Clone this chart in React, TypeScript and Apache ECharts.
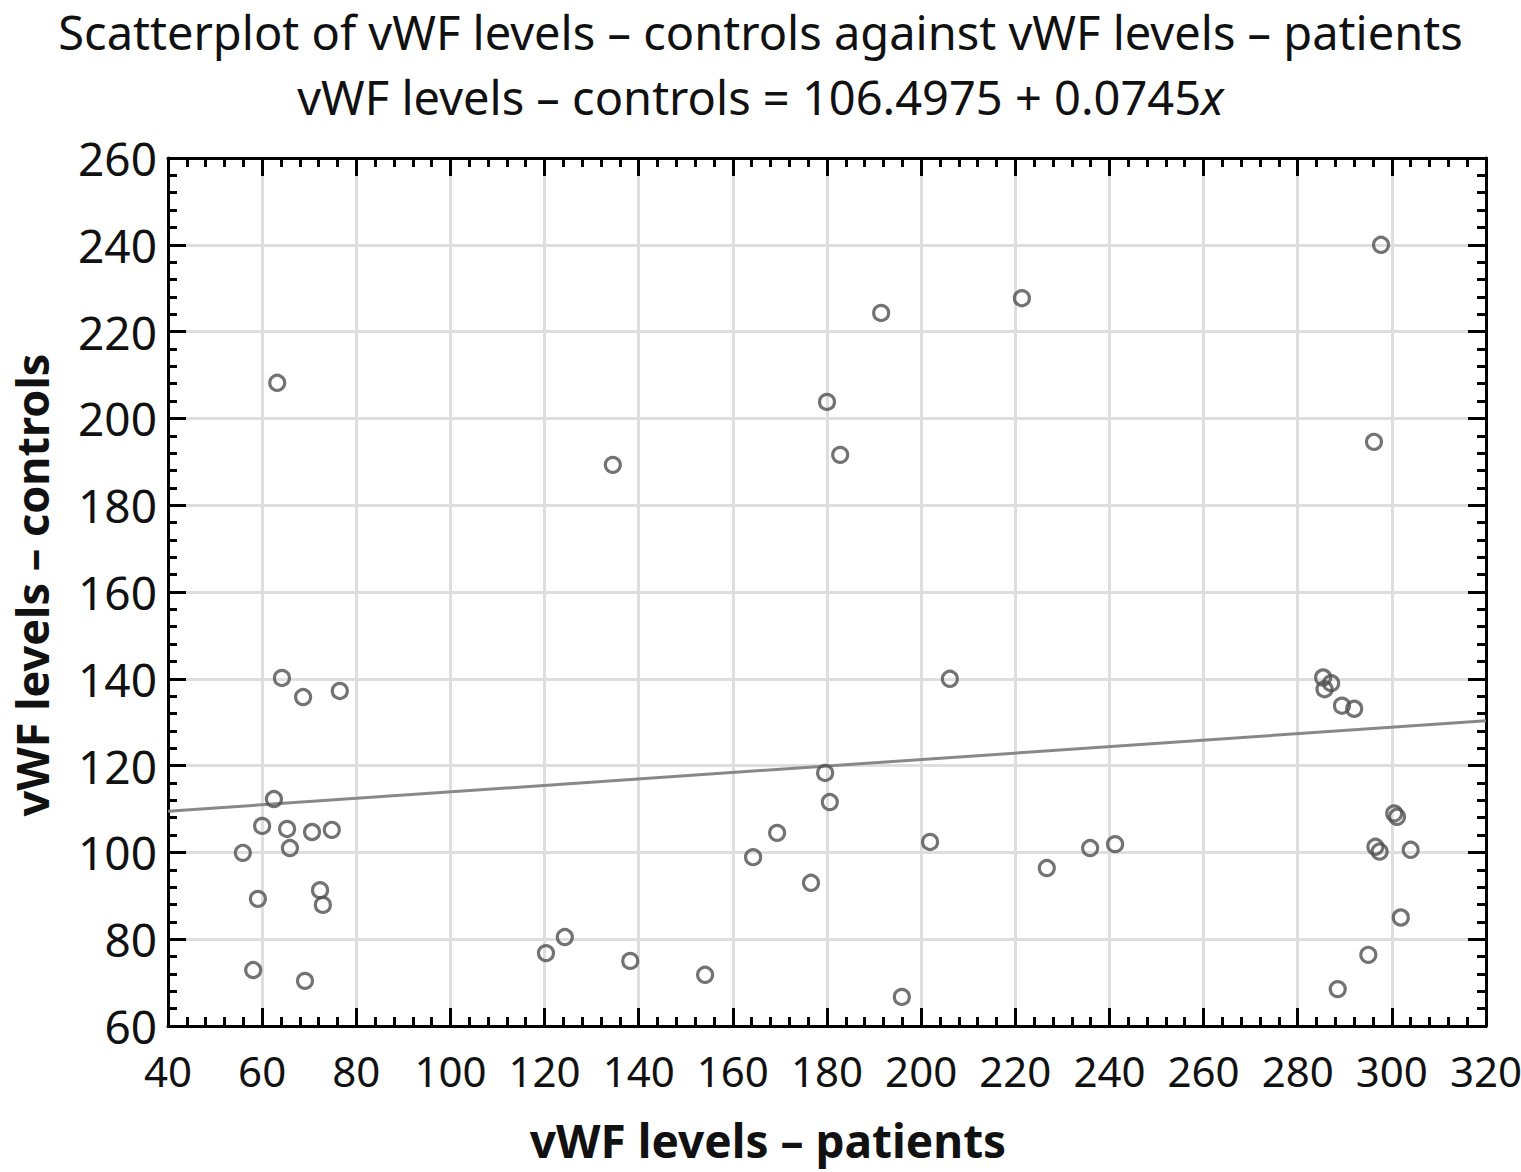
import React, { useEffect, useRef } from "react";
import * as echarts from "echarts";

const titleLine1 = "Scatterplot of vWF levels – controls against vWF levels – patients";
const titleLine2 = "vWF levels – controls = 106.4975 + 0.0745";
const xName = "vWF levels – patients";
const yName = "vWF levels – controls";

const intercept = 106.4975;
const slope = 0.0745;

const xMin = 40, xMax = 320, xStep = 20;
const yMin = 60, yMax = 260, yStep = 20;

const patients = [
  63.2, 64.2, 68.7, 76.5, 62.5, 60.0, 65.3, 70.6, 74.8, 55.9, 65.9, 59.1, 72.3, 72.9, 58.1, 69.1,
  134.5, 180.0, 182.8, 191.5, 221.4, 206.1, 179.6, 180.6, 164.3, 169.4, 176.6, 201.9, 226.7, 235.9, 241.2,
  120.3, 124.3, 138.2, 154.1, 195.9,
  297.7, 296.2, 285.4, 287.1, 285.7, 289.4, 292.0, 300.5, 301.1, 296.5, 297.4, 304.0, 301.9, 295.0, 288.5,
];
const controls = [
  208.2, 140.2, 135.8, 137.2, 112.3, 106.1, 105.4, 104.7, 105.2, 99.9, 101.0, 89.3, 91.3, 87.9, 72.9, 70.4,
  189.3, 203.8, 191.6, 224.3, 227.7, 140.0, 118.3, 111.6, 98.9, 104.5, 93.0, 102.4, 96.4, 101.0, 101.9,
  76.8, 80.5, 75.0, 71.8, 66.7,
  240.0, 194.6, 140.3, 139.0, 137.6, 133.8, 133.1, 109.0, 108.2, 101.3, 100.2, 100.6, 85.0, 76.4, 68.5,
];

const FONT = "Noto Sans";

export default function App() {
  const ref = useRef<HTMLDivElement>(null);
  useEffect(() => {
    if (!ref.current) return;
    const chart = echarts.init(ref.current, undefined, { renderer: "svg" });
    const points = patients.map((p, i) => [p, controls[i]]);
    const linePts = [
      [xMin, intercept + slope * xMin],
      [xMax, intercept + slope * xMax],
    ];
    const axisCommon = {
      type: "value" as const,
      axisLine: { show: true, onZero: false, lineStyle: { color: "#000", width: 3 } },
      axisTick: { show: true, inside: true, length: 18, lineStyle: { color: "#000", width: 3 } },
      minorTick: { show: true, splitNumber: 5, length: 9, lineStyle: { color: "#000", width: 3 } },
    };
    chart.setOption({
      animation: false,
      backgroundColor: "#fff",
      title: [
        {
          text: titleLine1,
          left: "center",
          top: 13,
          padding: 0,
          textStyle: { fontFamily: FONT, fontSize: 47, lineHeight: 38, fontWeight: "normal", color: "#111" },
        },
        {
          text: "{a|" + titleLine2 + "}{i|x}",
          left: "center",
          top: 78,
          padding: 0,
          textStyle: {
            fontWeight: "normal",
            lineHeight: 38,
            rich: {
              a: { fontFamily: FONT, fontSize: 47, lineHeight: 38, fontWeight: "normal", color: "#111" },
              i: { fontFamily: FONT, fontSize: 47, lineHeight: 38, fontWeight: "normal", color: "#111", fontStyle: "italic" },
            },
          },
        },
      ],
      graphic: [
        {
          type: "text",
          x: 768,
          y: 1140,
          style: {
            text: xName,
            fontFamily: FONT,
            fontSize: 46,
            fontWeight: "bold",
            fill: "#111",
            align: "center",
            verticalAlign: "middle",
          },
        },
        {
          type: "text",
          x: 31,
          y: 585,
          rotation: Math.PI / 2,
          style: {
            text: yName,
            fontFamily: FONT,
            fontSize: 45,
            fontWeight: "bold",
            fill: "#111",
            align: "center",
            verticalAlign: "middle",
          },
        },
      ],
      grid: { left: 168, right: 35, top: 158, bottom: 146, containLabel: false, outerBoundsMode: "none" },
      xAxis: [
        {
          ...axisCommon,
          position: "bottom",
          min: xMin,
          max: xMax,
          interval: xStep,
          axisLabel: { fontFamily: FONT, fontSize: 42, color: "#111", margin: 23 },
          splitLine: { show: true, lineStyle: { color: "#dedede", width: 3 } },
        },
        {
          ...axisCommon,
          position: "top",
          min: xMin,
          max: xMax,
          interval: xStep,
          axisLabel: { show: false },
          splitLine: { show: false },
        },
      ],
      yAxis: [
        {
          ...axisCommon,
          position: "left",
          min: yMin,
          max: yMax,
          interval: yStep,
          axisLabel: { fontFamily: FONT, fontSize: 46, color: "#111", margin: 11 },
          splitLine: { show: true, lineStyle: { color: "#dedede", width: 3 } },
        },
        {
          ...axisCommon,
          position: "right",
          min: yMin,
          max: yMax,
          interval: yStep,
          axisLabel: { show: false },
          splitLine: { show: false },
        },
      ],
      series: [
        {
          type: "line",
          data: linePts,
          showSymbol: false,
          symbol: "none",
          lineStyle: { color: "#888888", width: 3 },
          z: 2,
          silent: true,
        },
        {
          type: "scatter",
          data: points,
          symbol: "circle",
          symbolSize: 15,
          itemStyle: { color: "rgba(0,0,0,0)", borderColor: "#505050", borderWidth: 3.2 },
          z: 3,
        },
      ],
    });
    return () => chart.dispose();
  }, []);
  return (
    <div
      ref={ref}
      style={{ position: "absolute", left: 0, top: 0, width: 1521, height: 1172 }}
    />
  );
}
